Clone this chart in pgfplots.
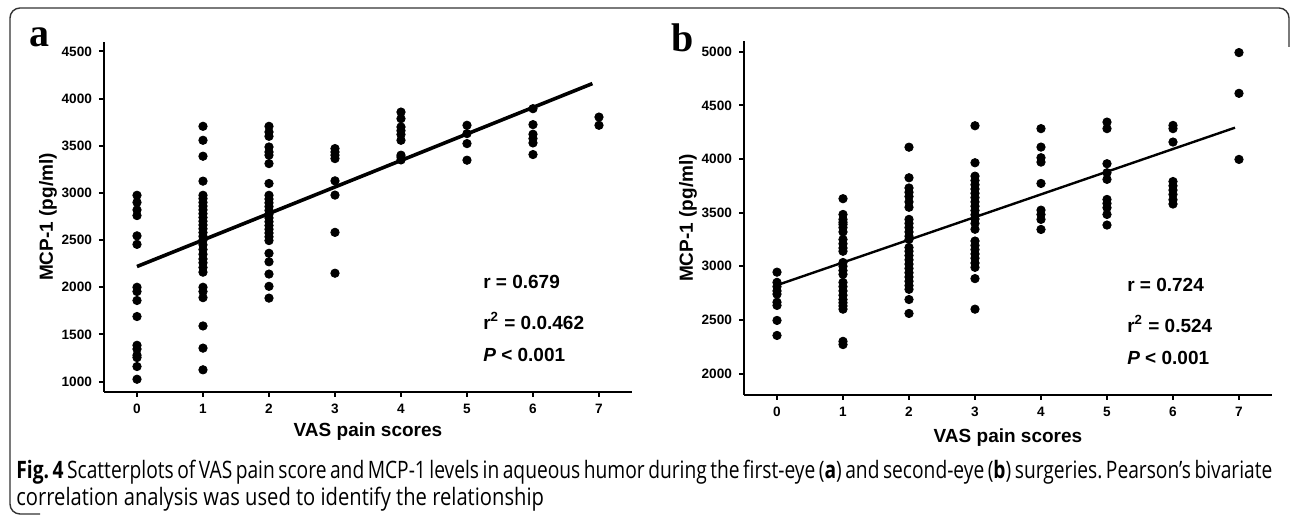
\documentclass[border=0pt]{standalone}
\usepackage{fontspec}
\setmainfont{Liberation Sans}
\newfontfamily\serifb{Liberation Serif}
\newfontfamily\capfontA{Open Sans}[FakeStretch=0.8]
\newfontfamily\capfont{Open Sans}[FakeStretch=0.84]
\usepackage{pgfplots}
\pgfplotsset{compat=1.18}

\pgfplotsset{
  vasaxis/.style={
    scale only axis, width=264pt,
    axis lines=left, axis line style={line width=1.2pt, -},
    xmin=-0.5, xmax=7.5, xtick={0,...,7},
    tick align=outside, major tick length=2.5pt,
    every tick/.style={black, line width=1pt},
    tick label style={font=\fontsize{6.8}{8}\selectfont\bfseries},
    /pgf/number format/assume math mode=true,
    /pgf/number format/1000 sep={},
    xlabel={VAS pain scores}, ylabel={MCP-1 (pg/ml)},
    label style={font=\fontsize{9.5}{11}\selectfont\bfseries},
    ylabel style={at={(axis description cs:-0.106,0.5)}, anchor=center},
    clip=false,
  },
  dots/.style={only marks, mark=*, mark size=2.1pt, black},
}
\newcommand{\statfont}{\fontsize{9.5}{11}\selectfont\bfseries}

\begin{document}
\frenchspacing
\begin{tikzpicture}
\path[use as bounding box] (0pt,0pt) rectangle (645pt,258.5pt);
% figure frame
\draw[black!80, line width=0.7pt, rounded corners=5pt]
  (20pt,1.5pt) -- (5pt,1.5pt) -- (5pt,254.5pt) -- (644.5pt,254.5pt) -- (644.5pt,235pt);

\node[anchor=base west, inner sep=0, font=\serifb\bfseries\fontsize{20}{20}\selectfont] at (14.5pt,235pt) {a};
\node[anchor=base west, inner sep=0, font=\serifb\bfseries\fontsize{20}{20}\selectfont] at (335.5pt,232.5pt) {b};

% ===== (a) first-eye =====
\begin{axis}[vasaxis, at={(52pt,62.5pt)}, anchor=south west, height=175pt,
    ymin=890, ymax=4600, ytick={1000,1500,...,4500},
    xlabel style={at={(axis description cs:0.5,-0.114)}, anchor=center}]
\addplot[dots] table {
x y
0 2975
0 2900
0 2820
0 2760
0 2545
0 2455
0 2000
0 1955
0 1860
0 1690
0 1385
0 1345
0 1280
0 1255
0 1160
0 1025
1 3706
1 3558
1 3389
1 3125
1 2975
1 2940
1 2900
1 2860
1 2820
1 2780
1 2740
1 2700
1 2660
1 2620
1 2580
1 2540
1 2500
1 2450
1 2400
1 2350
1 2300
1 2260
1 2210
1 2160
1 2000
1 1955
1 1890
1 1590
1 1355
1 1125
2 3706
2 3646
2 3600
2 3487
2 3434
2 3400
2 3311
2 3100
2 2975
2 2935
2 2895
2 2855
2 2815
2 2775
2 2735
2 2695
2 2655
2 2615
2 2575
2 2535
2 2495
2 2360
2 2270
2 2140
2 2010
2 1885
3 3470
3 3434
3 3400
3 3364
3 3128
3 2977
3 2582
3 2149
4 3857
4 3787
4 3699
4 3660
4 3620
4 3558
4 3400
4 3380
4 3350
5 3717
5 3629
5 3523
5 3347
6 3893
6 3724
6 3622
6 3576
6 3530
6 3407
7 3804
7 3717
};
\addplot[black, line width=1.8pt] coordinates {(0,2220) (6.9,4159)};
\node[anchor=west, font=\statfont] at (axis cs:5.14,2057) {r = 0.679};
\node[anchor=west, font=\statfont] at (axis cs:5.14,1640) {r\textsuperscript{2} = 0.0.462};
\node[anchor=west, font=\statfont] at (axis cs:5.14,1285) {\textit{P} < 0.001};
\end{axis}

% ===== (b) second-eye =====
\begin{axis}[vasaxis, at={(372pt,61pt)}, anchor=south west, height=177pt,
    ymin=1800, ymax=5100, ytick={2000,2500,...,5000},
    xlabel style={at={(axis description cs:0.5,-0.119)}, anchor=center}]
\addplot[dots] table {
x y
0 2945
0 2850
0 2810
0 2770
0 2740
0 2665
0 2635
0 2495
0 2355
1 3630
1 3483
1 3437
1 3410
1 3390
1 3360
1 3320
1 3250
1 3210
1 3170
1 3140
1 3035
1 3000
1 2960
1 2925
1 2850
1 2810
1 2770
1 2730
1 2690
1 2660
1 2630
1 2600
1 2300
1 2270
2 4110
2 3825
2 3730
2 3690
2 3650
2 3600
2 3550
2 3437
2 3400
2 3360
2 3320
2 3280
2 3250
2 3175
2 3140
2 3100
2 3060
2 3020
2 2980
2 2940
2 2900
2 2860
2 2820
2 2785
2 2690
2 2560
3 4310
3 3965
3 3840
3 3800
3 3760
3 3720
3 3680
3 3640
3 3600
3 3560
3 3520
3 3480
3 3440
3 3400
3 3345
3 3235
3 3195
3 3155
3 3115
3 3075
3 3030
3 2990
3 2885
3 2600
4 4283
4 4111
4 4012
4 3971
4 3772
4 3523
4 3483
4 3437
4 3343
5 4344
5 4283
5 3956
5 3872
5 3810
5 3623
5 3586
5 3546
5 3483
5 3384
6 4313
6 4283
6 4158
6 3790
6 3750
6 3710
6 3670
6 3620
6 3580
7 4992
7 4612
7 3996
};
\addplot[black, line width=1.2pt] coordinates {(0,2824) (6.94,4292)};
\node[anchor=west, font=\statfont] at (axis cs:5.2,2829) {r = 0.724};
\node[anchor=west, font=\statfont] at (axis cs:5.2,2462) {r\textsuperscript{2} = 0.524};
\node[anchor=west, font=\statfont] at (axis cs:5.2,2149) {\textit{P} < 0.001};
\end{axis}

% caption
\node[anchor=base west, inner sep=0, font=\capfontA\fontsize{12}{13.5}\selectfont] at (8pt,19pt)
  {\makebox[628pt][s]{\textbf{Fig. 4} Scatterplots of VAS pain score and MCP-1 levels in aqueous humor during the first-eye (\textbf{a}) and second-eye (\textbf{b}) surgeries. Pearson’s bivariate}};
\node[anchor=base west, inner sep=0, font=\capfont\fontsize{12}{13.5}\selectfont] at (8pt,5.5pt)
  {correlation analysis was used to identify the relationship};
\end{tikzpicture}
\end{document}
